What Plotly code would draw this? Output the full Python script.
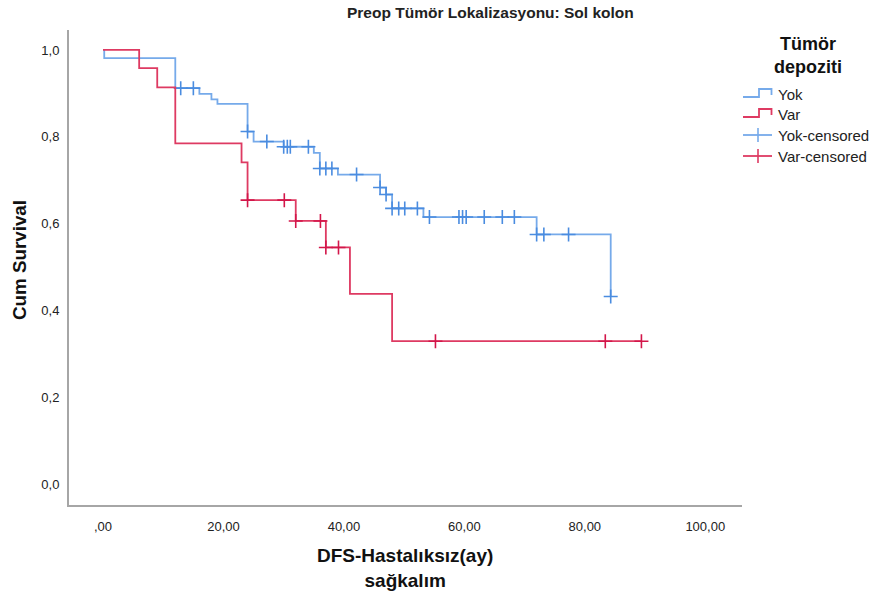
import numpy as np
import plotly.graph_objects as go

# ---------------- data ----------------
yok_times = [0, 0.2, 12.0, 16.0, 18.0, 19.0, 24.0, 25.0, 30.0, 35.0, 36.0, 39.0,
             46.0, 47.0, 48.0, 53.2, 72.0, 84.3]
yok_surv = [1.0, 0.981, 0.912, 0.899, 0.886, 0.876, 0.812, 0.789, 0.777, 0.763,
            0.727, 0.713, 0.683, 0.667, 0.635, 0.615, 0.575, 0.432]
yok_censored = [12.9, 15.0, 24.0, 27.2, 30.0, 30.6, 31.1, 34.1, 36.0, 37.0, 38.0,
                42.1, 46.0, 47.0, 48.0, 49.1, 50.1, 52.2, 54.2, 59.1, 59.7, 60.3,
                63.3, 66.3, 68.3, 72.0, 73.2, 77.3, 84.3]

var_times = [0, 6.0, 9.0, 12.0, 23.0, 24.0, 32.0, 37.0, 41.0, 48.0]
var_surv = [1.0, 0.958, 0.914, 0.785, 0.741, 0.654, 0.606, 0.545, 0.438, 0.329]
var_censored = [24.0, 30.1, 32.0, 36.1, 37.0, 39.1, 55.2, 83.4, 89.4]

x_tickvals = [0, 20, 40, 60, 80, 100]
x_ticktext = [",00", "20,00", "40,00", "60,00", "80,00", "100,00"]
y_tickvals = [0, 0.2, 0.4, 0.6, 0.8, 1.0]
y_ticktext = ["0,0", "0,2", "0,4", "0,6", "0,8", "1,0"]

title_text = "Preop Tümör Lokalizasyonu: Sol kolon"
x_title = "DFS-Hastalıksız(ay)<br>sağkalım"
y_title = "Cum Survival"
legend_title = "Tümör<br>depoziti"
legend_labels = ["Yok", "Var", "Yok-censored", "Var-censored"]

# ---------------- styles ----------------
BLUE_LINE = "#76AAEA"
BLUE_MARK = "#4A8CE0"
RED_LINE = "#DE3A62"
RED_MARK = "#D3164A"
FONT = "Liberation Sans, Arial, sans-serif"
TXT = "#222222"

W, H = 874, 597
# plot area in page pixels: left 69, right 742, top 30, bottom 505
ML, MT = 69, 30
MR = W - 742
MB = H - 505
PW, PH = W - ML - MR, H - MT - MB


def step_xy(times, surv, cens):
    xs = list(times)
    ys = list(surv)
    end = max(cens) if cens else xs[-1]
    if end > xs[-1]:
        xs.append(end)
        ys.append(ys[-1])
    return xs, ys


def censor_y(times, surv, cens):
    t = np.asarray(times)
    s = np.asarray(surv)
    idx = np.searchsorted(t, np.asarray(cens), side="right") - 1
    return s[idx]


fig = go.Figure()

for times, surv, cens, lc, mc in [
    (yok_times, yok_surv, yok_censored, BLUE_LINE, BLUE_MARK),
    (var_times, var_surv, var_censored, RED_LINE, RED_MARK),
]:
    xs, ys = step_xy(times, surv, cens)
    fig.add_trace(go.Scatter(x=xs, y=ys, mode="lines", line=dict(color=lc, width=1.8, shape="hv"),
                             showlegend=False, hoverinfo="skip"))
    fig.add_trace(go.Scatter(x=cens, y=censor_y(times, surv, cens), mode="markers",
                             marker=dict(symbol="cross-thin", size=10, line=dict(color=mc, width=1.6)),
                             showlegend=False, hoverinfo="skip"))


def px2paper(px, py):
    """page pixel -> paper coords"""
    return (px - ML) / PW, (H - MB - py) / PH


shapes = []
annotations = []

# title
tx, ty = px2paper(490, 13)
annotations.append(dict(text="<b>" + title_text + "</b>", x=tx, y=ty, xref="paper", yref="paper",
                        showarrow=False, font=dict(family=FONT, size=15.5, color=TXT),
                        xanchor="center", yanchor="middle"))

# legend title
lx, ly = px2paper(808, 55)
annotations.append(dict(text="<b>" + legend_title + "</b>", x=lx, y=ly, xref="paper", yref="paper",
                        showarrow=False, font=dict(family=FONT, size=18, color="#111111"),
                        xanchor="center", yanchor="middle", align="center"))

legend_rows = [
    (legend_labels[0], 94, BLUE_LINE, "step"),
    (legend_labels[1], 114, RED_LINE, "step"),
    (legend_labels[2], 135, BLUE_LINE, "cens"),
    (legend_labels[3], 156, RED_LINE, "cens"),
]
for label, yc, col, kind in legend_rows:
    if kind == "step":
        pts = [(743, yc + 3), (759, yc + 3), (759, yc - 5), (771.5, yc - 5), (771.5, yc + 1)]
        path = ""
        for i, (a, b) in enumerate(pts):
            pxp, pyp = px2paper(a, b)
            path += ("M" if i == 0 else "L") + f"{pxp},{pyp} "
        shapes.append(dict(type="path", path=path, xref="paper", yref="paper",
                           line=dict(color=col, width=1.8)))
    else:
        x0, y0 = px2paper(743, yc)
        x1, _ = px2paper(772, yc)
        shapes.append(dict(type="line", x0=x0, x1=x1, y0=y0, y1=y0, xref="paper", yref="paper",
                           line=dict(color=col, width=1.8)))
        mx, my0 = px2paper(758, yc - 7)
        _, my1 = px2paper(758, yc + 7)
        shapes.append(dict(type="line", x0=mx, x1=mx, y0=my0, y1=my1, xref="paper", yref="paper",
                           line=dict(color=col, width=1.6)))
    ax_, ay_ = px2paper(776, yc)
    annotations.append(dict(text=label, x=ax_, y=ay_, xref="paper", yref="paper", showarrow=False,
                            font=dict(family=FONT, size=15, color=TXT), xanchor="left", yanchor="middle"))

# axis titles
xt, yt = px2paper(405, 568)
annotations.append(dict(text="<b>" + x_title + "</b>", x=xt, y=yt, xref="paper", yref="paper",
                        showarrow=False, font=dict(family=FONT, size=19, color="#111111"),
                        xanchor="center", yanchor="middle", align="center"))
yx, yy = px2paper(19, 260)
annotations.append(dict(text="<b>" + y_title + "</b>", x=yx, y=yy, xref="paper", yref="paper",
                        showarrow=False, textangle=-90, font=dict(family=FONT, size=18.8, color="#111111"),
                        xanchor="center", yanchor="middle"))

fig.update_layout(
    width=W, height=H,
    margin=dict(l=ML, r=MR, t=MT, b=MB, pad=0),
    paper_bgcolor="white", plot_bgcolor="white",
    font=dict(family=FONT, size=13, color=TXT),
    shapes=shapes, annotations=annotations,
    showlegend=False,
    xaxis=dict(range=[-5.65, 106.1], tickvals=x_tickvals, ticktext=x_ticktext,
               showgrid=False, zeroline=False, showline=True, linecolor="#A6A6A6", linewidth=2,
               ticks="outside", ticklen=8, tickcolor="rgba(0,0,0,0)",
               tickfont=dict(family=FONT, size=13, color=TXT)),
    yaxis=dict(range=[-0.0484, 1.046], tickvals=y_tickvals, ticktext=y_ticktext,
               showgrid=False, zeroline=False, showline=True, linecolor="#A6A6A6", linewidth=2,
               ticks="outside", ticklen=5, tickcolor="rgba(0,0,0,0)",
               tickfont=dict(family=FONT, size=13, color=TXT)),
)

fig.write_html("out.html", config={"displayModeBar": False, "staticPlot": True},
               post_script="document.body.style.margin='0px';document.body.style.overflow='hidden';")
